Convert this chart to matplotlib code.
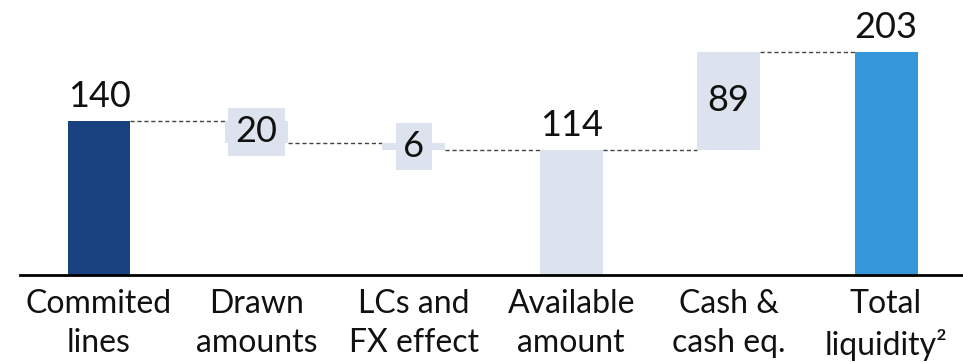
import numpy as np
import matplotlib
matplotlib.use("Agg")
import matplotlib.pyplot as plt

# Daten des Wasserfalls
categories = ["Commited\nlines", "Drawn\namounts", "LCs and\nFX effect",
              "Available\namount", "Cash &\ncash eq.", "Total\nliquidity\u00b2"]
values = [140, -20, -6, 114, 89, 203]
kinds = ["total", "delta", "delta", "total", "delta", "total"]
labels = ["140", "20", "6", "114", "89", "203"]

navy = "#17427f"
light = "#dde3ee"
blue = "#3597da"
colors = [navy, light, light, light, light, blue]

plt.rcParams["font.family"] = ["Lato", "DejaVu Sans"]

fig = plt.figure(figsize=(9.63, 3.62), dpi=100)
ax = fig.add_axes([0, 87 / 362, 1, 275 / 362])

# Balken berechnen
bottoms = []
heights = []
level = 0
for v, k in zip(values, kinds):
    if k == "total":
        bottoms.append(0)
        heights.append(v)
        level = v
    else:
        if v < 0:
            bottoms.append(level + v)
        else:
            bottoms.append(level)
        heights.append(abs(v))
        level = level + v

x = np.arange(len(values))
w = 0.40
ax.bar(x, heights, bottom=bottoms, width=w, color=colors, zorder=2)

# Verbindungslinien
lvl = 0
levels = []
for v, k in zip(values, kinds):
    lvl = v if k == "total" else lvl + v
    levels.append(lvl)
for i in range(len(values) - 1):
    ax.plot([x[i] + w / 2, x[i + 1] - w / 2], [levels[i], levels[i]],
            color="#444444", lw=1, ls=(0, (3, 2)), zorder=1)

# Beschriftungen
for i, k in enumerate(kinds):
    if k == "total":
        ax.text(x[i], heights[i] + 7, labels[i], ha="center", va="bottom",
                fontsize=26, color="#111111")
    else:
        ax.text(x[i], bottoms[i] + heights[i] / 2, labels[i], ha="center",
                va="center", fontsize=26, color="#111111",
                bbox=dict(boxstyle="square,pad=0.2", fc=light, ec="none"), zorder=3)

ax.set_xlim(-0.629, 5.489)
ax.set_ylim(0, 250)
ax.set_xticks(x)
ax.set_xticklabels(categories, fontsize=23, color="#111111", linespacing=1.4)
ax.tick_params(axis="x", length=0, pad=10)
ax.set_yticks([])
for s in ["top", "right", "left"]:
    ax.spines[s].set_visible(False)
ax.spines["bottom"].set_linewidth(2)
ax.spines["bottom"].set_bounds(-0.5, 5.489)

fig.savefig("out.png", dpi=100)
